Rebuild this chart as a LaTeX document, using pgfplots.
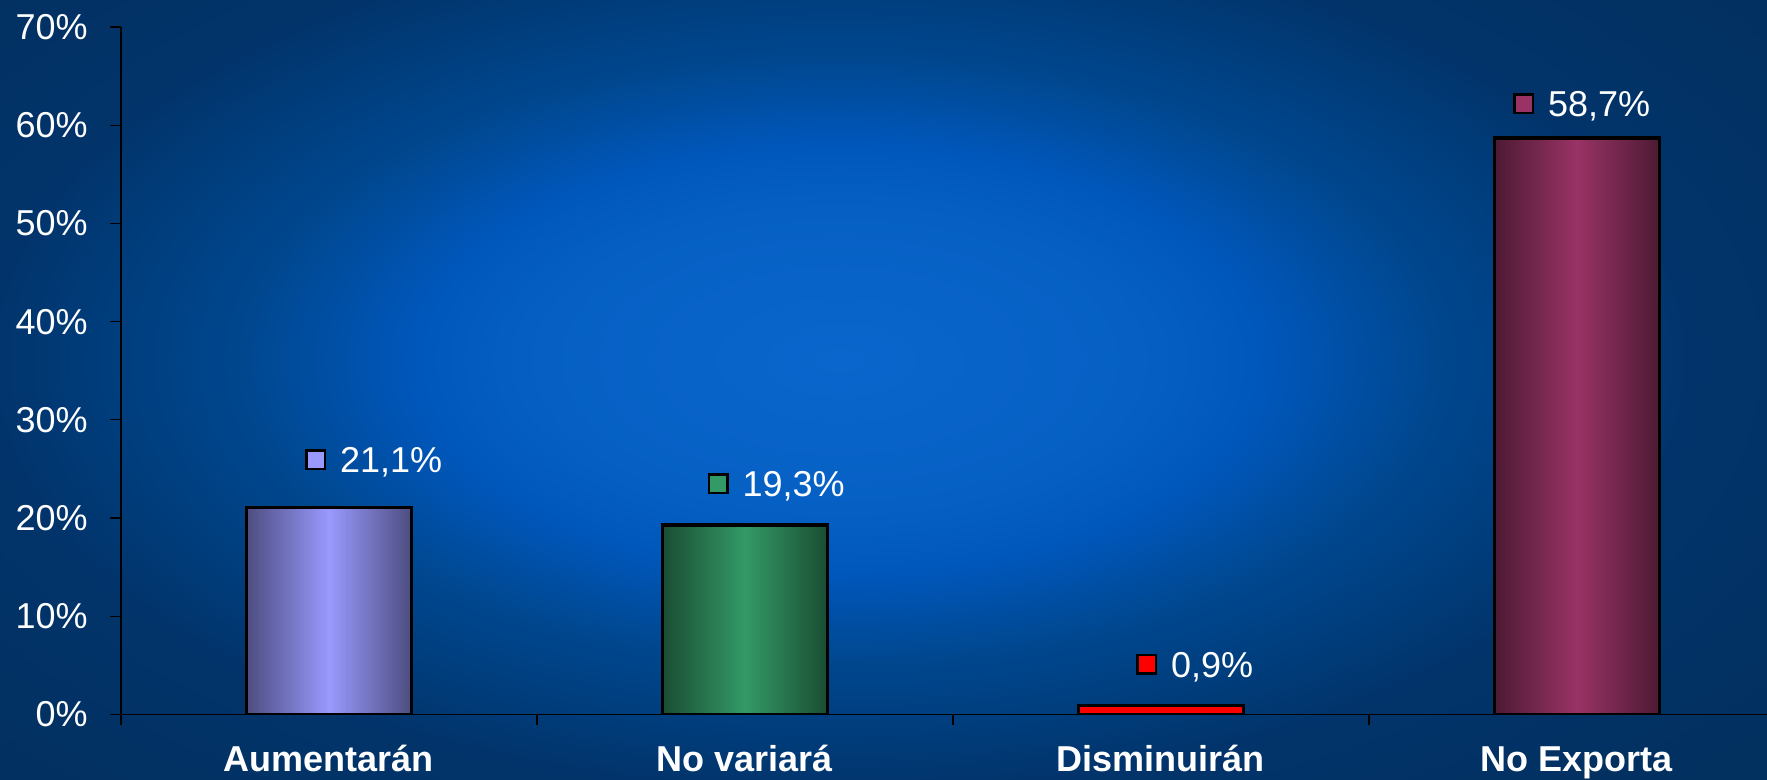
\documentclass[border=0pt]{standalone}
\usepackage{pgfplots}
\pgfplotsset{compat=1.18}
\usepackage{fontspec}
\setmainfont{Liberation Sans}

% background glow
\definecolor{bgA}{HTML}{0A66CC}
\definecolor{bgB}{HTML}{0660C4}
\definecolor{bgC}{HTML}{0057BB}
\definecolor{bgD}{HTML}{00478F}
\definecolor{bgE}{HTML}{003C7A}
\definecolor{bgF}{HTML}{02346B}
\definecolor{bgG}{HTML}{02305F}
\pgfdeclareradialshading{bgglow}{\pgfpoint{0bp}{0bp}}{color(0bp)=(bgA); color(7.9bp)=(bgB); color(11.3bp)=(bgC); color(15.8bp)=(bgD); color(19.9bp)=(bgE); color(22.6bp)=(bgF); color(31.6bp)=(bgG); color(50bp)=(bgG)}

% bar colours (edge / centre)
\definecolor{aumD}{HTML}{4D4D80}
\definecolor{aumL}{HTML}{9999FF}
\definecolor{novD}{HTML}{1A4D33}
\definecolor{novL}{HTML}{339966}
\definecolor{disL}{HTML}{FF0000}
\definecolor{noeD}{HTML}{4D1A33}
\definecolor{noeL}{HTML}{993366}

\newcommand\labelbox[1]{\raisebox{2.5pt}{\setlength\fboxsep{0pt}\setlength\fboxrule{1.25pt}\fcolorbox{black}{#1}{\rule{0pt}{8pt}\rule{8pt}{0pt}}}}
\newcommand\lblfont{\fontsize{18pt}{21.6pt}\selectfont}
\newcommand\vallabel[1]{\labelbox{#1}\hspace{7pt}\pgfmathprintnumber[fixed,fixed zerofill,precision=1,use comma]{\pgfplotspointmeta}\%}

\begin{document}
\begin{tikzpicture}
\useasboundingbox (0,0) rectangle (883.5pt,390pt);
\fill[bgG] (0,0) rectangle (883.5pt,390pt);
\begin{scope}
\clip (0,0) rectangle (883.5pt,390pt);
\shade[shading=bgglow] (-50pt,-28pt) rectangle (890pt,448pt);
\end{scope}
\begin{axis}[
 at={(60.5pt,32.75pt)},anchor=south west,
 scale only axis,width=823pt,height=343.75pt,
 ybar,bar shift=0pt,bar width=0.397,
 xmin=-0.5,xmax=3.457,ymin=0,ymax=70,
 axis lines*=left,
 axis line style={black,line width=0.6pt},
 tick align=outside,major tick length=5.5pt,
 tick style={black,line width=0.6pt},
 /pgf/number format/assume math mode=true,
 ytick={0,10,...,70},
 yticklabel={\pgfmathprintnumber{\tick}\%},
 yticklabel style={text=white,font=\lblfont,anchor=east,inner sep=0pt,xshift=-11pt},
 xtick={-0.5,0.5,1.5,2.5},xticklabels={},
 extra x ticks={0,1,2,3},
 extra x tick labels={Aumentarán,No variará,Disminuirán,No Exporta},
 extra x tick style={major tick length=0pt,
   xticklabel style={text=white,font=\lblfont\bfseries,anchor=base,inner sep=0pt,yshift=-28.75pt}},
 every node near coord/.append style={text=white,font=\lblfont,anchor=base west,inner sep=0pt},
]
\addplot[draw=black,line width=1.6pt,left color=aumD,right color=aumD,middle color=aumL,
 nodes near coords={\vallabel{aumL}},
 every node near coord/.append style={xshift=-12.75pt,yshift=17.3pt}]
 coordinates {(0,21.1)};
\addplot[draw=black,line width=1.6pt,left color=novD,right color=novD,middle color=novL,
 nodes near coords={\vallabel{novL}},
 every node near coord/.append style={xshift=-19.5pt,yshift=14pt}]
 coordinates {(1,19.3)};
\addplot[draw=black,line width=1.6pt,fill=disL,
 nodes near coords={\vallabel{disL}},
 every node near coord/.append style={xshift=-13.25pt,yshift=14.25pt}]
 coordinates {(2,0.9)};
\addplot[draw=black,line width=1.6pt,left color=noeD,right color=noeD,middle color=noeL,
 nodes near coords={\vallabel{noeL}},
 every node near coord/.append style={xshift=-32.75pt,yshift=10.5pt}]
 coordinates {(3,58.7)};
\end{axis}
\end{tikzpicture}
\end{document}
